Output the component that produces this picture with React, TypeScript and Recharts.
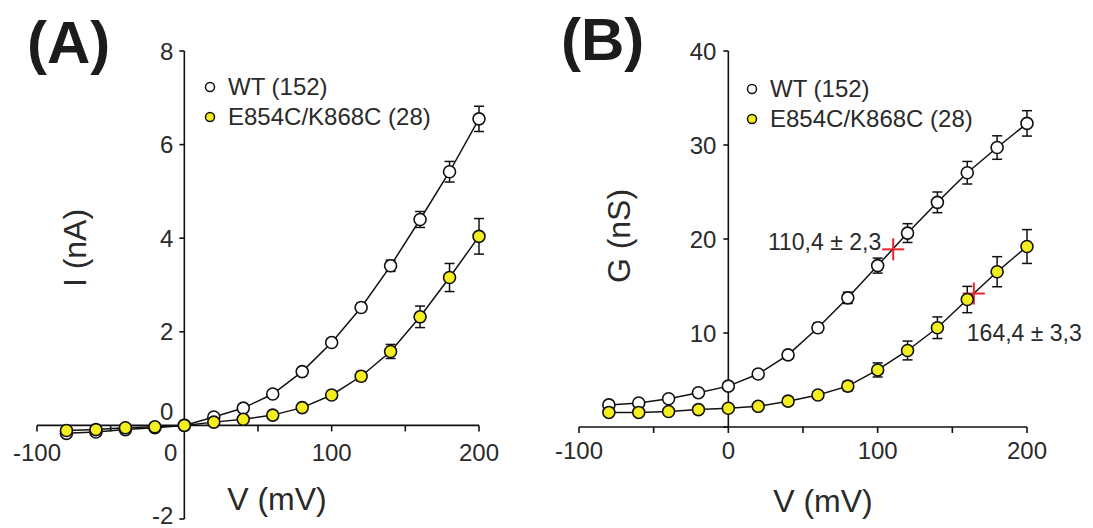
import React from "react";
import {
  ComposedChart,
  ErrorBar,
  Legend,
  Line,
  ReferenceDot,
  ReferenceLine,
  XAxis,
  YAxis,
} from "recharts";

const FONT = "'Liberation Sans', Arial, Helvetica, sans-serif";
const TEXT = "#2a2a2a";
const YELLOW = "#f4ee1e";
const RED = "#e6262c";

// test potentials (mV)
const voltages = [-80, -60, -40, -20, 0, 20, 40, 60, 80, 100, 120, 140, 160, 180, 200];

// panel A: current (nA)
const currentWT = [-0.17, -0.14, -0.09, -0.05, 0, 0.18, 0.37, 0.67, 1.15, 1.77, 2.52, 3.41, 4.4, 5.42, 6.55];
const currentWTErr = [0.03, 0.03, 0.03, 0.02, 0.02, 0.03, 0.04, 0.05, 0.06, 0.07, 0.09, 0.12, 0.17, 0.22, 0.27];
const currentMut = [-0.11, -0.09, -0.05, -0.03, 0, 0.07, 0.13, 0.22, 0.38, 0.65, 1.05, 1.58, 2.32, 3.16, 4.04];
const currentMutErr = [0.03, 0.03, 0.03, 0.02, 0.02, 0.03, 0.04, 0.05, 0.07, 0.08, 0.1, 0.15, 0.23, 0.3, 0.38];

// panel B: conductance (nS)
const conductWT = [2.35, 2.55, 3.0, 3.65, 4.35, 5.64, 7.67, 10.56, 13.74, 17.17, 20.63, 23.9, 27.05, 29.73, 32.3];
const conductWTErr = [0.3, 0.3, 0.3, 0.3, 0.35, 0.4, 0.45, 0.5, 0.6, 0.8, 1.0, 1.1, 1.2, 1.25, 1.35];
const conductMut = [1.55, 1.55, 1.65, 1.85, 2.0, 2.2, 2.75, 3.4, 4.35, 6.07, 8.14, 10.56, 13.56, 16.52, 19.2];
const conductMutErr = [0.2, 0.2, 0.2, 0.2, 0.25, 0.3, 0.35, 0.4, 0.5, 0.75, 1.0, 1.15, 1.4, 1.6, 1.8];

const seriesNames = ["WT (152)", "E854C/K868C (28)"];
const seriesFills = ["#ffffff", YELLOW];

const vTicks = [-100, -50, 0, 50, 100, 150, 200];
const vTickLabels = [-100, 0, 100, 200];
const currentTicks = [-2, 0, 2, 4, 6, 8];
const conductTicks = [0, 10, 20, 30, 40];

// half-activation voltages marked on the G-V curves
const halfV = [110.4, 164.4];
const halfG = [18.9, 14.2];
const halfText = ["110,4 ± 2,3", "164,4 ± 3,3"];

const rowsOf = (ys: number[], es: number[]) => voltages.map((v, i) => ({ v, y: ys[i], e: es[i] }));

const iWT = rowsOf(currentWT, currentWTErr);
const iMut = rowsOf(currentMut, currentMutErr);
const gWT = rowsOf(conductWT, conductWTErr);
const gMut = rowsOf(conductMut, conductMutErr);

const labelStyle = { fontFamily: FONT, fontSize: 24, fill: TEXT };

const marker = (fill: string) => (p: any) => (
  <circle key={`${p.cx}-${p.cy}`} cx={p.cx} cy={p.cy} r={6} fill={fill} stroke="#111" strokeWidth={1.6} />
);

const legendContent = () => (
  <div style={{ fontFamily: FONT, fontSize: 24, color: TEXT }}>
    {seriesNames.map((name, i) => (
      <div key={name} style={{ display: "flex", alignItems: "center", height: 30, whiteSpace: "nowrap" }}>
        <svg width={12} height={12} style={{ marginRight: 12 }}>
          <circle cx={6} cy={6} r={4.5} fill={seriesFills[i]} stroke="#111" strokeWidth={1.5} />
        </svg>
        <span>{name}</span>
      </div>
    ))}
  </div>
);

function series(wt: any[], mut: any[]) {
  return [
    <Line
      key="wt"
      data={wt}
      dataKey="y"
      type="linear"
      stroke="#111"
      strokeWidth={1.5}
      dot={marker(seriesFills[0])}
      isAnimationActive={false}
    >
      <ErrorBar dataKey="e" width={5} stroke="#111" strokeWidth={1.5} direction="y" />
    </Line>,
    <Line
      key="mut"
      data={mut}
      dataKey="y"
      type="linear"
      stroke="#111"
      strokeWidth={1.5}
      dot={marker(seriesFills[1])}
      isAnimationActive={false}
    >
      <ErrorBar dataKey="e" width={5} stroke="#111" strokeWidth={1.5} direction="y" />
    </Line>,
  ];
}

function PanelA() {
  return (
    <ComposedChart width={546} height={528} margin={{ top: 51, right: 67, bottom: 9, left: 37 }}>
      <XAxis type="number" dataKey="v" domain={[-100, 200]} hide />
      <YAxis type="number" domain={[-2, 8]} hide />
      <ReferenceLine segment={[{ x: -100, y: 0 }, { x: 200, y: 0 }]} stroke="#111" strokeWidth={1.6} ifOverflow="visible" />
      <ReferenceLine segment={[{ x: 0, y: -2 }, { x: 0, y: 8 }]} stroke="#111" strokeWidth={1.6} ifOverflow="visible" />
      {vTicks.map((t) => (
        <ReferenceDot
          key={`vx${t}`}
          x={t}
          y={0}
          ifOverflow="visible"
          shape={(p: any) => (
            <g>
              <line x1={p.cx} y1={p.cy} x2={p.cx} y2={p.cy + 6} stroke="#111" strokeWidth={1.6} />
              {vTickLabels.includes(t) && (
                <text
                  {...labelStyle}
                  x={t === 0 ? p.cx - 7 : p.cx}
                  y={p.cy + 36}
                  textAnchor={t === 0 ? "end" : "middle"}
                >
                  {t}
                </text>
              )}
            </g>
          )}
        />
      ))}
      {currentTicks.map((t) => (
        <ReferenceDot
          key={`iy${t}`}
          x={0}
          y={t}
          ifOverflow="visible"
          shape={(p: any) => (
            <g>
              <line x1={p.cx - 5} y1={p.cy} x2={p.cx} y2={p.cy} stroke="#111" strokeWidth={1.6} />
              <text
                {...labelStyle}
                x={p.cx - 11}
                y={t === 0 ? p.cy - 14 : t === -2 ? p.cy - 4 : p.cy}
                dy="0.36em"
                textAnchor="end"
              >
                {t}
              </text>
            </g>
          )}
        />
      ))}
      {series(iWT, iMut)}
      <Legend
        layout="vertical"
        align="center"
        verticalAlign="middle"
        content={legendContent}
        wrapperStyle={{ left: 204, top: 72, width: 320 }}
      />
    </ComposedChart>
  );
}

function PanelB() {
  return (
    <ComposedChart width={547} height={528} margin={{ top: 51, right: 66, bottom: 71, left: 33 }}>
      <XAxis
        type="number"
        dataKey="v"
        domain={[-100, 200]}
        ticks={vTicks}
        height={30}
        tickSize={6}
        axisLine={{ stroke: "#111", strokeWidth: 1.6 }}
        tickLine={{ stroke: "#111", strokeWidth: 1.6 }}
        tick={(p: any) => (
          <text {...labelStyle} x={p.x} y={p.y + 24} textAnchor="middle">
            {vTickLabels.includes(p.payload.value) ? p.payload.value : ""}
          </text>
        )}
      />
      <YAxis type="number" domain={[0, 40]} hide />
      <ReferenceLine segment={[{ x: 0, y: 0 }, { x: 0, y: 40 }]} stroke="#111" strokeWidth={1.6} ifOverflow="visible" />
      {conductTicks.map((t) => (
        <ReferenceDot
          key={`gy${t}`}
          x={0}
          y={t}
          ifOverflow="visible"
          shape={(p: any) => (
            <g>
              <line x1={p.cx - 5} y1={p.cy} x2={p.cx} y2={p.cy} stroke="#111" strokeWidth={1.6} />
              {t !== 0 && (
                <text {...labelStyle} x={p.cx - 12} y={p.cy} dy="0.36em" textAnchor="end">
                  {t}
                </text>
              )}
            </g>
          )}
        />
      ))}
      {series(gWT, gMut)}
      {halfV.map((v, i) => (
        <ReferenceDot
          key={`half${i}`}
          x={v}
          y={halfG[i]}
          ifOverflow="visible"
          shape={(p: any) => (
            <g>
              <line x1={p.cx - 11} y1={p.cy} x2={p.cx + 11} y2={p.cy} stroke={RED} strokeWidth={2} />
              <line x1={p.cx} y1={p.cy - 11} x2={p.cx} y2={p.cy + 11} stroke={RED} strokeWidth={2} />
              <text
                {...labelStyle}
                fontSize={23}
                x={i === 0 ? p.cx - 12 : p.cx - 7}
                y={i === 0 ? p.cy + 1 : p.cy + 47}
                textAnchor={i === 0 ? "end" : "start"}
              >
                {halfText[i]}
              </text>
            </g>
          )}
        />
      ))}
      <Legend
        layout="vertical"
        align="center"
        verticalAlign="middle"
        content={legendContent}
        wrapperStyle={{ left: 200, top: 74, width: 320 }}
      />
    </ComposedChart>
  );
}

export default function App() {
  return (
    <div style={{ position: "absolute", left: 0, top: 0, width: 1093, height: 528, background: "#fff" }}>
      <div style={{ position: "absolute", left: 0, top: 0 }}>
        <PanelA />
      </div>
      <div style={{ position: "absolute", left: 546, top: 0 }}>
        <PanelB />
      </div>
      <svg
        width={1093}
        height={528}
        style={{ position: "absolute", left: 0, top: 0, pointerEvents: "none" }}
      >
        <g fontFamily={FONT} fill="#1e1b1b">
          <text x={27} y={63} fontSize={60} fontWeight="bold">(A)</text>
          <text x={561} y={60} fontSize={60} fontWeight="bold">(B)</text>
        </g>
        <g fontFamily={FONT} fontSize={32} fill={TEXT} textAnchor="middle">
          <text x={277} y={510}>V (mV)</text>
          <text x={823} y={512}>V (mV)</text>
          <text transform="translate(86 248) rotate(-90)">I (nA)</text>
          <text transform="translate(630 236) rotate(-90)">G (nS)</text>
        </g>
      </svg>
    </div>
  );
}
